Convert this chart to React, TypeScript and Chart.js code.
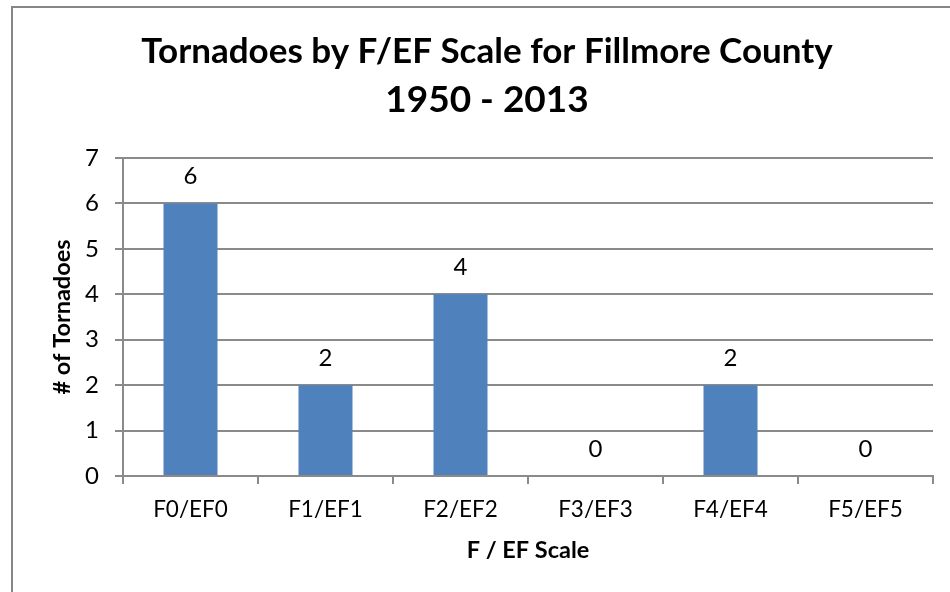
import React, { useEffect, useRef } from "react";
import { Chart, registerables } from "chart.js";
Chart.register(...registerables);

const categories = ["F0/EF0", "F1/EF1", "F2/EF2", "F3/EF3", "F4/EF4", "F5/EF5"];
const tornadoCounts = [6, 2, 4, 0, 2, 0];
const yTicks = [0, 1, 2, 3, 4, 5, 6, 7];
const titleLines = ["Tornadoes by F/EF Scale for Fillmore County", "1950 - 2013"];
const xTitle = "F / EF Scale";
const yTitle = "# of Tornadoes";

const FONT = "Lato";
const GRID = "#8a8a8a";

const textPlugin = {
  id: "textPlugin",
  afterDraw(chart: any) {
    const ctx = chart.ctx;
    const area = chart.chartArea;
    ctx.save();
    ctx.fillStyle = "#000";
    ctx.textAlign = "center";
    ctx.textBaseline = "middle";
    ctx.font = `bold 35px ${FONT}`;
    ctx.fillText(titleLines[0], 487, 52);
    ctx.font = `bold 37px ${FONT}`;
    ctx.fillText(titleLines[1], 487, 100);
    ctx.font = `bold 23.5px ${FONT}`;
    ctx.fillText(xTitle, (area.left + area.right) / 2, 550);
    ctx.save();
    ctx.translate(62, (area.top + area.bottom) / 2);
    ctx.rotate(-Math.PI / 2);
    ctx.fillText(yTitle, 0, 0);
    ctx.restore();
    ctx.font = `24px ${FONT}`;
    const meta = chart.getDatasetMeta(0);
    meta.data.forEach((el: any, i: number) => {
      ctx.fillText(String(tornadoCounts[i]), el.x, el.y - 27);
    });
    ctx.restore();
  },
};

export default function App() {
  const ref = useRef<HTMLCanvasElement>(null);
  useEffect(() => {
    const chart = new Chart(ref.current!, {
      type: "bar",
      data: {
        labels: categories,
        datasets: [
          {
            data: tornadoCounts,
            backgroundColor: "#4F81BD",
            barPercentage: 0.4,
            categoryPercentage: 1,
          },
        ],
      },
      options: {
        animation: false,
        responsive: false,
        maintainAspectRatio: false,
        layout: { padding: { top: 158, right: 17, left: 0, bottom: 0 } },
        plugins: { legend: { display: false }, tooltip: { enabled: false }, title: { display: false } },
        scales: {
          x: {
            grid: { drawOnChartArea: false, drawTicks: true, tickLength: 8, color: GRID, lineWidth: 2, offset: true },
            border: { color: GRID, width: 2 },
            ticks: { color: "#000", font: { family: FONT, size: 22.5 }, padding: 12, maxRotation: 0 },
            afterFit: (s: any) => { s.height = 116; },
          },
          y: {
            min: 0,
            max: 7,
            afterBuildTicks: (s: any) => { s.ticks = yTicks.map((v) => ({ value: v })); },
            grid: { color: GRID, lineWidth: 2, tickLength: 8 },
            border: { color: GRID, width: 2 },
            ticks: { color: "#000", font: { family: FONT, size: 24 }, padding: 16 },
            afterFit: (s: any) => { s.width = 123; },
          },
        },
      },
      plugins: [textPlugin],
    });
    return () => chart.destroy();
  }, []);
  return (
    <div style={{ position: "absolute", left: 0, top: 0, width: 950, height: 592, background: "#fff", overflow: "hidden" }}>
      <div style={{ position: "absolute", left: 11, top: 6, width: 1000, height: 1000, borderLeft: "2px solid #878787", borderTop: "2px solid #878787" }} />
      <canvas ref={ref} width={950} height={592} style={{ position: "absolute", left: 0, top: 0 }} />
    </div>
  );
}
